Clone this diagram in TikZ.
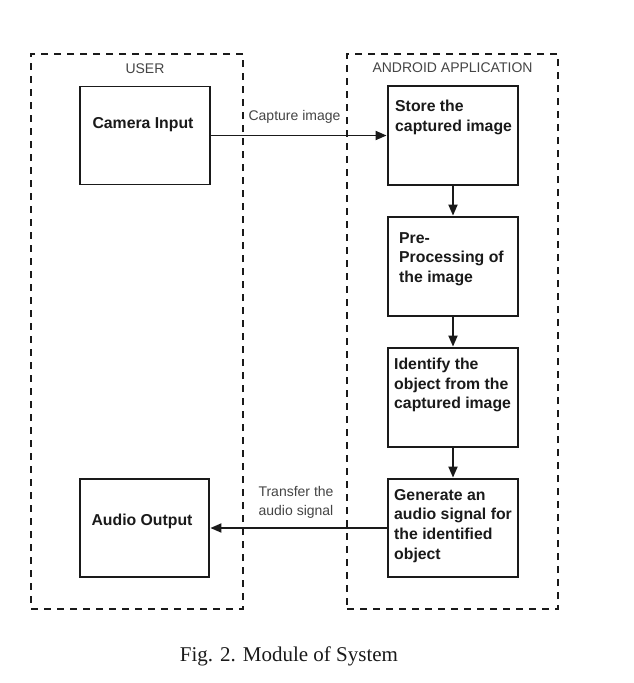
\documentclass[tikz,border=0pt]{standalone}
\usepackage{fontspec}
\setmainfont{Liberation Serif}
\setsansfont{Liberation Sans}
\usetikzlibrary{arrows.meta}
\definecolor{ink}{HTML}{1A1A1A}
\definecolor{lab}{HTML}{454545}
\tikzset{
  x=1pt, y=-1pt,
  zone/.style={draw=ink, line width=1.6pt, dash pattern=on 7pt off 6pt, minimum width=#1, minimum height=555pt, inner sep=0pt},
  procbox/.style={draw=ink, line width=1.8pt, minimum width=130pt, minimum height=98pt, inner sep=0pt, fill=white},
  boxtext/.style={font=\sffamily\bfseries\fontsize{15.8}{19.6}\selectfont, text=ink, align=left, inner sep=0pt, anchor=north west},
  zonelabel/.style={font=\sffamily\fontsize{14}{19}\selectfont, text=lab, inner sep=0pt, align=center},
  flow/.style={draw=ink, line width=1.8pt, -{Triangle[length=11pt,width=9pt]}, shorten >=0.5pt}
}
\begin{document}
\begin{tikzpicture}
\useasboundingbox (0,0) rectangle (633,683);
\fill[white] (0,0) rectangle (633,683);
% zones
\node[zone=212pt] (userzone) at (137,331.5) {};
\node[zone=211pt] (androidzone) at (452.5,331.5) {};
\node[zonelabel] (userlab) at (145,69) {USER};
\node[zonelabel] (androidlab) at (452.5,68) {ANDROID APPLICATION};
% boxes
\node[procbox] (cam) at (145,135.5) {};
\node[procbox, minimum width=129pt] (audio) at (144.5,528) {};
\node[procbox, minimum height=99pt] (store) at (453,135.5) {};
\node[procbox, minimum height=99pt] (pre) at (453,266.5) {};
\node[procbox, minimum height=99pt] (ident) at (453,397.5) {};
\node[procbox] (gen) at (453,528) {};
% texts
\node[font=\sffamily\bfseries\fontsize{15.8}{19.6}\selectfont, text=ink, inner sep=0pt] (camT) at (143,124.5) {Camera Input};
\node[font=\sffamily\bfseries\fontsize{15.8}{19.6}\selectfont, text=ink, inner sep=0pt] (audioT) at (142,521.5) {Audio Output};
\node[boxtext] (storeT) at (395,100) {Store the\\captured image};
\node[boxtext] (preT) at (399,232) {Pre-\\Processing of\\the image};
\node[boxtext] (identT) at (394,358) {Identify the\\object from the\\captured image};
\node[boxtext] (genT) at (394,489) {Generate an\\audio signal for\\the identified\\object};
% connectors
\draw[flow] (cam.east) -- (store.west);
\draw[flow] (store.south) -- (pre.north);
\draw[flow] (pre.south) -- (ident.north);
\draw[flow] (ident.south) -- (gen.north);
\draw[flow] (gen.west) -- (audio.east);
\node[zonelabel] (capT) at (294.5,117) {Capture image};
\node[zonelabel] (transT) at (296,502.5) {Transfer the\\audio signal};
% caption
\node[font=\fontsize{21}{24}\selectfont, text=ink, inner sep=0pt] (caption) at (289,656) {Fig. 2. Module of System};
\end{tikzpicture}
\end{document}
